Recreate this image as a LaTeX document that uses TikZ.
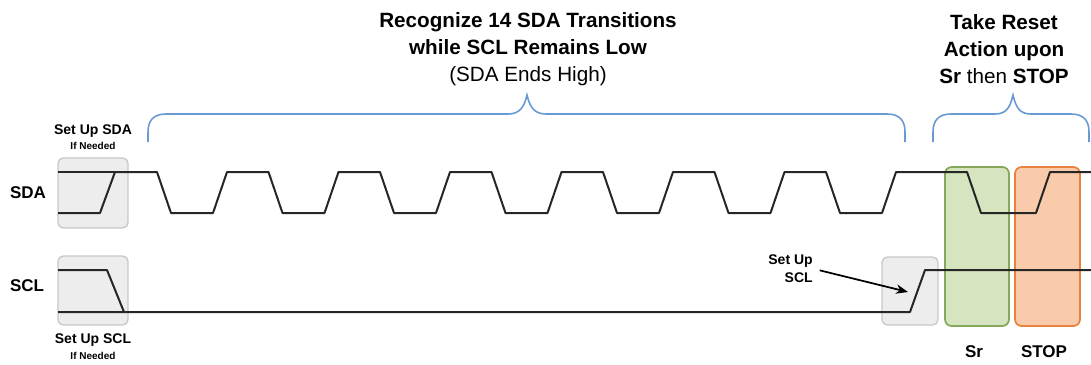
\documentclass[tikz,border=0pt]{standalone}
\usepackage{fontspec}
\setmainfont{Liberation Sans}
\usetikzlibrary{arrows.meta}
\definecolor{bracecol}{HTML}{6A9AD4}
\definecolor{grayfill}{HTML}{EDEDED}
\definecolor{grayline}{HTML}{C8C8C8}
\definecolor{greenfill}{HTML}{D6E4BF}
\definecolor{greenline}{HTML}{86A85A}
\definecolor{orangefill}{HTML}{F9CBAA}
\definecolor{orangeline}{HTML}{E8823F}
\tikzset{
  sig/.style={line width=1.5pt, black!85, line join=round},
  brc/.style={line width=1.2pt, bracecol},
  setupbox/.style={fill=grayfill, draw=grayline, line width=1pt, rounded corners=4pt},
  srbox/.style={fill=greenfill, draw=greenline, line width=1.3pt, rounded corners=5pt},
  stopbox/.style={fill=orangefill, draw=orangeline, line width=1.3pt, rounded corners=5pt},
  lbl/.style={font=\fontsize{12.75}{15}\selectfont\bfseries, inner sep=0pt},
  small/.style={font=\fontsize{10.5}{13.5}\selectfont\bfseries, inner sep=0pt},
  tiny/.style={font=\fontsize{7.5}{9}\selectfont\bfseries, inner sep=0pt},
  title/.style={font=\fontsize{15.5}{20}\selectfont, align=center, inner sep=0pt}
}
\begin{document}
\begin{tikzpicture}[x=0.75pt, y=-0.75pt]
\useasboundingbox (0,0) rectangle (1091,364);
% boxes
\draw[setupbox] (58,158) rectangle (128,228);
\draw[setupbox] (58,256) rectangle (128,325);
\draw[setupbox] (882,257) rectangle (938,325);
\draw[srbox] (945,167) rectangle (1009,326);
\draw[stopbox] (1015,167) rectangle (1080,326);
% SDA
\draw[sig] (58,172) -- (115,172);
\draw[sig] (58,213) -- (100,213) -- (115,172)
  foreach \k in {0,...,6}{ -- ({157+111.5*\k},172) -- ({171+111.5*\k},213) -- ({213+111.5*\k},213) -- ({227+111.5*\k},172)}
  -- (967,172) -- (981,213) -- (1036,213) -- (1050,172) -- (1091,172);
% SCL
\draw[sig] (58,270) -- (107,270) -- (124,312);
\draw[sig] (58,312) -- (910,312) -- (925,270) -- (1091,270);
% braces
\draw[brc] (148,142) -- (148,132) .. controls (148,120) and (154,114) .. (166,114) -- (508,114)
  .. controls (519,114) and (524,108) .. (527,95)
  .. controls (530,108) and (535,114) .. (546,114) -- (887,114)
  .. controls (899,114) and (905,120) .. (905,132) -- (905,142);
\draw[brc] (933,142) -- (933,132) .. controls (933,120) and (939,114) .. (951,114) -- (995,114)
  .. controls (1006,114) and (1010,108) .. (1013,95)
  .. controls (1016,108) and (1020,114) .. (1031,114) -- (1071,114)
  .. controls (1083,114) and (1089,120) .. (1089,132) -- (1089,142);
% titles
\node[title] (t1) at (528,49) {\bfseries Recognize 14 SDA Transitions\\ \bfseries while SCL Remains Low\\ (SDA Ends High)};
\node[title] (t2) at (1004,49) {\bfseries Take Reset\\ \bfseries Action upon\\ \textbf{Sr} then \textbf{STOP}};
% labels
\node[lbl] (sda) at (28,193) {SDA};
\node[lbl] (scl) at (27,286) {SCL};
\node[small] (suSDA) at (93,131) {Set Up SDA};
\node[tiny] (inSDA) at (93,146) {If Needed};
\node[small] (suSCL) at (93,340) {Set Up SCL};
\node[tiny] (inSCL) at (93,356) {If Needed};
\node[small, align=right, anchor=east] (suscl2) at (813,269) {Set Up\\SCL};
\coordinate (arrtip) at (908,292);
\draw[line width=1.3pt, -{Stealth[length=9pt,width=7pt]}] ([xshift=5pt,yshift=-1pt]suscl2.east) -- (arrtip);
\node[lbl] (sr) at (974,352) {Sr};
\node[lbl] (stop) at (1044,352) {STOP};
\end{tikzpicture}
\end{document}
